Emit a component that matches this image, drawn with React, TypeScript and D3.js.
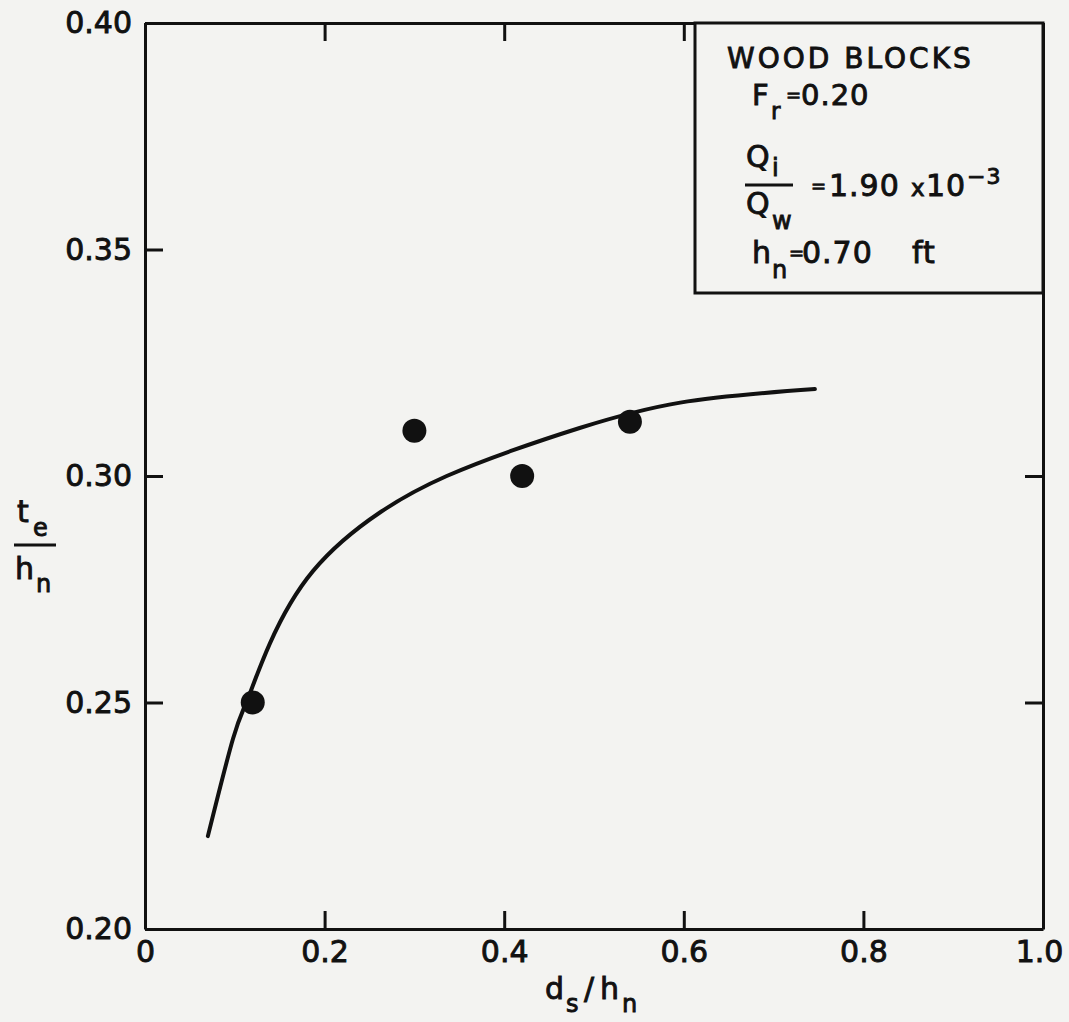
import React, { useEffect, useRef } from 'react';
import * as d3 from 'd3';

// axis ticks
const xTicks = [0, 0.2, 0.4, 0.6, 0.8, 1.0];
const yTicks = [0.20, 0.25, 0.30, 0.35, 0.40];

// measured points (d_s/h_n, t_e/h_n)
const pointX = [0.12, 0.30, 0.42, 0.54];
const pointY = [0.250, 0.310, 0.300, 0.312];

// hand-drawn fit curve
const curveX = [0.070, 0.098, 0.114, 0.139, 0.187, 0.262, 0.336, 0.410, 0.484, 0.596, 0.746];
const curveY = [0.2205, 0.242, 0.2506, 0.263, 0.279, 0.292, 0.300, 0.3057, 0.3106, 0.3162, 0.3192];

const FONT = '"DejaVu Sans", sans-serif';

const App = () => {
  const ref = useRef<SVGSVGElement>(null);

  useEffect(() => {
    const width = 1069;
    const height = 1022;
    const margin = { top: 23, right: 26, bottom: 93, left: 145 };

    const svg = d3.select(ref.current);
    svg.selectAll('*').remove();

    svg.append('rect')
      .attr('width', width)
      .attr('height', height)
      .attr('fill', '#f3f3f1');

    const x = d3.scaleLinear().domain([0, 1]).range([margin.left, width - margin.right]);
    const y = d3.scaleLinear().domain([0.2, 0.4]).range([height - margin.bottom, margin.top]);

    const g = svg.append('g');

    // axes with inward ticks
    const bottom = g.append('g')
      .attr('transform', `translate(0,${y(0.2)})`)
      .call(d3.axisBottom(x).tickValues(xTicks).tickSize(-18).tickSizeOuter(0).tickPadding(12)
        .tickFormat((d) => (d === 0 ? '0' : d3.format('.1f')(d as number))));
    const left = g.append('g')
      .attr('transform', `translate(${x(0)},0)`)
      .call(d3.axisLeft(y).tickValues(yTicks).tickSize(-18).tickSizeOuter(0).tickPadding(13)
        .tickFormat((d) => d3.format('.2f')(d as number)));
    const top = g.append('g')
      .attr('transform', `translate(0,${y(0.4)})`)
      .call(d3.axisTop(x).tickValues(xTicks).tickSize(-18).tickSizeOuter(0).tickFormat(() => ''));
    const right = g.append('g')
      .attr('transform', `translate(${x(1)},0)`)
      .call(d3.axisRight(y).tickValues(yTicks).tickSize(-18).tickSizeOuter(0).tickFormat(() => ''));

    [bottom, left, top, right].forEach((a) => {
      a.select('.domain').attr('stroke', '#111').attr('stroke-width', 3);
      a.selectAll('.tick line').attr('stroke', '#111').attr('stroke-width', 3);
      a.selectAll('.tick text')
        .attr('font-family', FONT)
        .attr('font-size', 30)
        .attr('fill', '#111')
        .attr('stroke', '#111')
        .attr('stroke-width', 0.9);
    });
    // last x label sits a bit left of its tick, like the original lettering
    bottom.selectAll('.tick text').filter((d) => d === 1).attr('dx', -4);

    // legend box (covers the ticks behind it)
    const box = svg.append('g');
    box.append('rect')
      .attr('x', 695)
      .attr('y', y(0.4))
      .attr('width', x(1) - 695)
      .attr('height', 293 - y(0.4))
      .attr('fill', '#f3f3f1')
      .attr('stroke', '#111')
      .attr('stroke-width', 3);

    const txt = (sel, xx, yy, s, size = 30, spacing = 1) =>
      sel.append('text')
        .attr('x', xx)
        .attr('y', yy)
        .attr('font-family', FONT)
        .attr('font-size', size)
        .attr('letter-spacing', spacing)
        .attr('fill', '#111')
        .attr('stroke', '#111')
        .attr('stroke-width', 0.9)
        .text(s);

    txt(box, 727, 68, 'WOOD BLOCKS', 28, 3);
    txt(box, 752, 105, 'F', 29);
    txt(box, 771, 119, 'r', 23);
    txt(box, 786, 101, '=', 18, 0);
    txt(box, 801, 105, '0.20', 29);
    txt(box, 746, 167, 'Q');
    txt(box, 772, 176, 'i', 24);
    box.append('line')
      .attr('x1', 745).attr('x2', 793).attr('y1', 185).attr('y2', 185)
      .attr('stroke', '#111').attr('stroke-width', 3);
    txt(box, 746, 214, 'Q');
    txt(box, 772, 229, 'w', 24);
    txt(box, 811, 192, '=', 18, 0);
    txt(box, 829, 196, '1.90');
    txt(box, 911, 196, 'x', 23);
    txt(box, 926, 196, '10');
    txt(box, 967, 184, '−3', 22);
    txt(box, 752, 263, 'h');
    txt(box, 772, 278, 'n', 24);
    txt(box, 789, 259, '=', 18, 0);
    txt(box, 802, 263, '0.70');
    txt(box, 912, 263, 'ft');

    // x-axis title d_s/h_n
    txt(svg, 545, 999, 'd');
    txt(svg, 566, 1012, 's', 24);
    txt(svg, 584, 999, '/');
    txt(svg, 600, 999, 'h');
    txt(svg, 622, 1012, 'n', 24);

    // y-axis title t_e / h_n
    txt(svg, 17, 522, 't');
    txt(svg, 33, 536, 'e', 24);
    svg.append('line')
      .attr('x1', 14).attr('x2', 56).attr('y1', 545).attr('y2', 545)
      .attr('stroke', '#111').attr('stroke-width', 3);
    txt(svg, 15, 579, 'h');
    txt(svg, 36, 592, 'n', 24);

    // fitted curve
    const curveData = curveX.map((v, i) => [v, curveY[i]]);
    const line = d3.line()
      .x((d) => x(d[0]))
      .y((d) => y(d[1]))
      .curve(d3.curveNatural);
    g.append('path')
      .datum(curveData)
      .attr('d', line)
      .attr('fill', 'none')
      .attr('stroke', '#111')
      .attr('stroke-width', 4)
      .attr('stroke-linecap', 'round');

    // data points
    g.selectAll('circle.pt')
      .data(pointX.map((v, i) => [v, pointY[i]]))
      .enter()
      .append('circle')
      .attr('class', 'pt')
      .attr('cx', (d) => x(d[0]))
      .attr('cy', (d) => y(d[1]))
      .attr('r', 12)
      .attr('fill', '#111');
  }, []);

  return (
    <svg
      ref={ref}
      width={1069}
      height={1022}
      style={{ position: 'absolute', left: 0, top: 0, display: 'block' }}
    />
  );
};

export default App;
